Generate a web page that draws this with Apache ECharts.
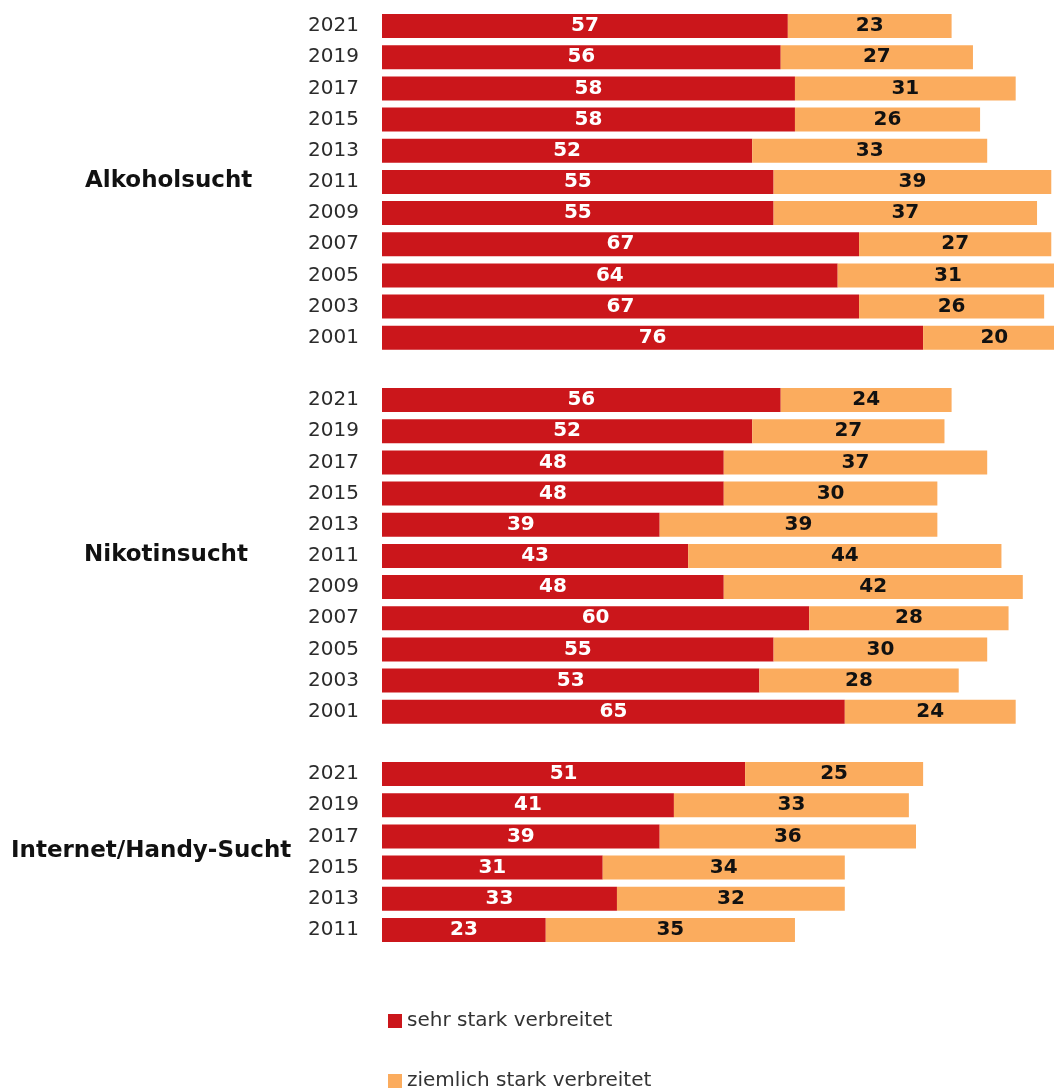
<!DOCTYPE html>
<html>
<head>
<meta charset="utf-8">
<style>
  html, body { margin: 0; padding: 0; background: #ffffff; overflow: hidden; }
  #chart { width: 1054px; height: 1091px; }
</style>
<script src="https://cdn.jsdelivr.net/npm/echarts@6/dist/echarts.min.js"></script>
</head>
<body>
<div id="chart"></div>
<script>
// Survey years per group (top to bottom)
const alkoholYears   = ['2021','2019','2017','2015','2013','2011','2009','2007','2005','2003','2001'];
const nikotinYears   = ['2021','2019','2017','2015','2013','2011','2009','2007','2005','2003','2001'];
const internetYears  = ['2021','2019','2017','2015','2013','2011'];

// "sehr stark verbreitet" (%)
const alkoholSehr    = [57, 56, 58, 58, 52, 55, 55, 67, 64, 67, 76];
const nikotinSehr    = [56, 52, 48, 48, 39, 43, 48, 60, 55, 53, 65];
const internetSehr   = [51, 41, 39, 31, 33, 23];

// "ziemlich stark verbreitet" (%)
const alkoholZiemlich  = [23, 27, 31, 26, 33, 39, 37, 27, 31, 26, 20];
const nikotinZiemlich  = [24, 27, 37, 30, 39, 44, 42, 28, 30, 28, 24];
const internetZiemlich = [25, 33, 36, 34, 32, 35];

const groupNames = ['Alkoholsucht', 'Nikotinsucht', 'Internet/Handy-Sucht'];
const seriesNames = ['sehr stark verbreitet', 'ziemlich stark verbreitet'];

const RED = '#CB161B';
const ORANGE = '#FBAC5E';
const FONT = 'DejaVu Sans';

// Build one category list with a blank spacer row between groups.
const groups = [
  { key: 'a', years: alkoholYears,  sehr: alkoholSehr,  ziemlich: alkoholZiemlich },
  { key: 'n', years: nikotinYears,  sehr: nikotinSehr,  ziemlich: nikotinZiemlich },
  { key: 'i', years: internetYears, sehr: internetSehr, ziemlich: internetZiemlich }
];
const categories = [];
const sehrData = [];
const ziemlichData = [];
groups.forEach((g, gi) => {
  if (gi > 0) {
    categories.push('gap' + gi + '|');
    sehrData.push('-');
    ziemlichData.push('-');
  }
  g.years.forEach((y, i) => {
    categories.push(g.key + y + '|' + y);
    sehrData.push(g.sehr[i]);
    ziemlichData.push(g.ziemlich[i]);
  });
});

const chart = echarts.init(document.getElementById('chart'), null, { renderer: 'canvas' });

const legendText = { fontFamily: FONT, fontSize: 20, color: '#333333' };

const option = {
  animation: false,
  backgroundColor: '#ffffff',
  // The value axis runs past the right edge, so the longest bars are cut off there.
  grid: {
    left: 382, width: 712, top: 10.5, bottom: 145.5,
    containLabel: false,
    outerBoundsMode: 'none'
  },
  xAxis: {
    type: 'value', min: 0, max: 100,
    show: false
  },
  yAxis: {
    type: 'category',
    inverse: true,
    data: categories,
    axisLine: { show: false },
    axisTick: { show: false },
    splitLine: { show: false },
    axisLabel: {
      margin: 23,
      fontFamily: FONT,
      fontSize: 20,
      color: '#2b2b2b',
      formatter: v => v.split('|')[1]
    }
  },
  legend: [
    {
      left: 383, top: 1006,
      itemWidth: 14, itemHeight: 14, icon: 'rect',
      textStyle: legendText,
      data: [seriesNames[0]]
    },
    {
      left: 383, top: 1066,
      itemWidth: 14, itemHeight: 14, icon: 'rect',
      textStyle: legendText,
      data: [seriesNames[1]]
    }
  ],
  series: [
    {
      name: seriesNames[0],
      type: 'bar',
      stack: 'total',
      barWidth: 24,
      itemStyle: { color: RED },
      label: {
        show: true, position: 'inside',
        fontFamily: FONT, fontWeight: 'bold', fontSize: 20, color: '#ffffff'
      },
      data: sehrData
    },
    {
      name: seriesNames[1],
      type: 'bar',
      stack: 'total',
      barWidth: 24,
      itemStyle: { color: ORANGE },
      label: {
        show: true, position: 'inside',
        fontFamily: FONT, fontWeight: 'bold', fontSize: 20, color: '#111111'
      },
      data: ziemlichData
    }
  ]
};
chart.setOption(option);

// Group titles placed beside their rows, positioned through the category axis.
function rowY(cat) {
  return chart.convertToPixel({ yAxisIndex: 0 }, cat);
}
const titleRows = [
  { text: groupNames[0], x: 85, y: rowY('a2011|2011') },
  { text: groupNames[1], x: 84, y: rowY('n2011|2011') },
  { text: groupNames[2], x: 11, y: (rowY('i2017|2017') + rowY('i2015|2015')) / 2 }
];
chart.setOption({
  graphic: titleRows.map(t => ({
    type: 'text',
    left: t.x,
    top: t.y - 12,
    style: {
      text: t.text,
      fontFamily: FONT,
      fontWeight: 'bold',
      fontSize: 23,
      fill: '#111111',
      textVerticalAlign: 'top'
    }
  }))
});
</script>
</body>
</html>
